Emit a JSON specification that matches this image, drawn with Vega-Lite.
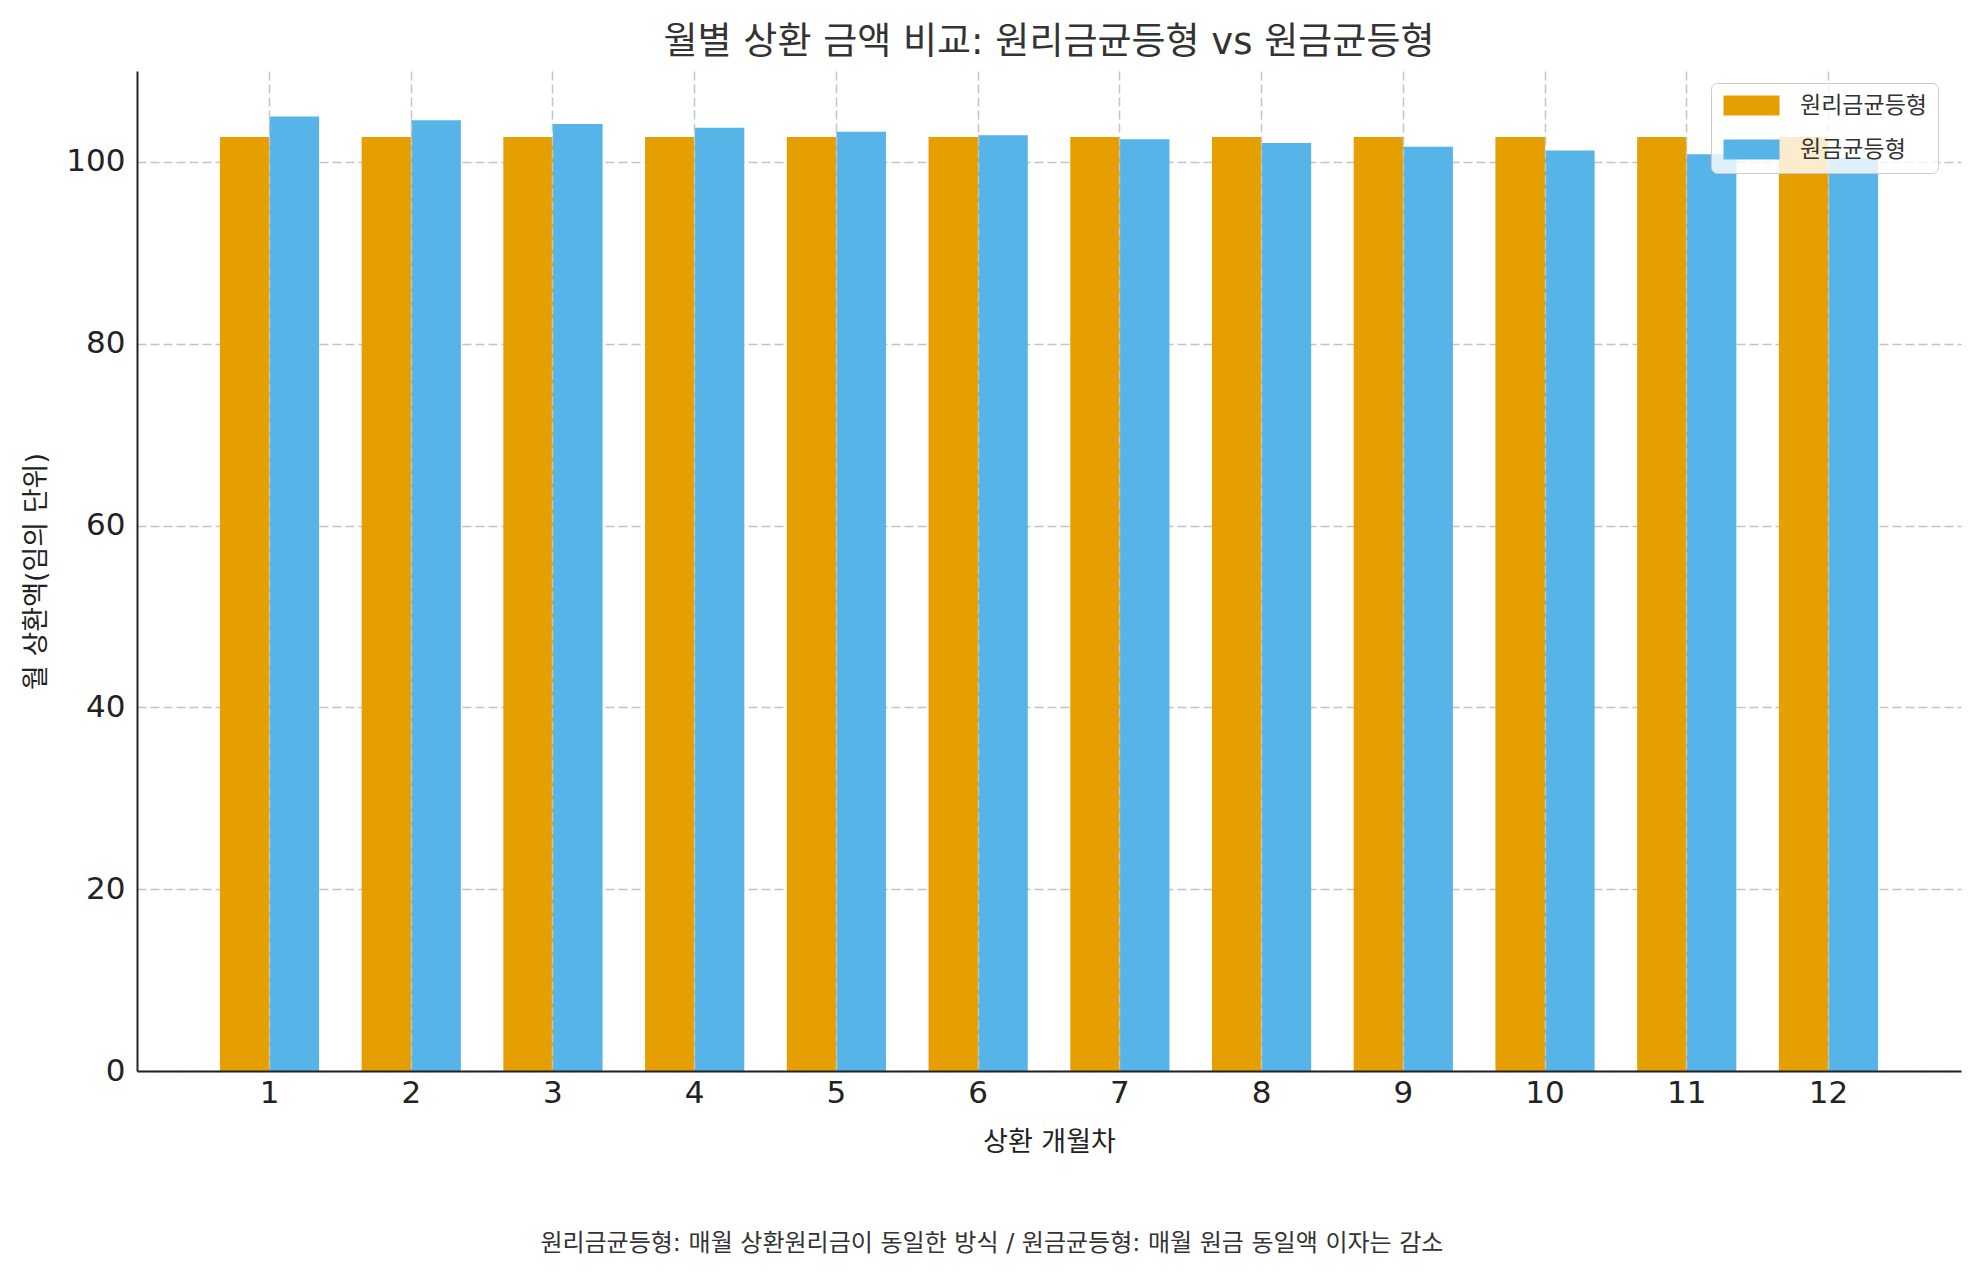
{
  "$schema": "https://vega.github.io/schema/vega-lite/v6.json",
  "padding": {"left": 22, "top": 24, "right": 5, "bottom": 5},
  "background": "white",
  "title": {
    "text": "원리금균등형: 매월 상환원리금이 동일한 방식 / 원금균등형: 매월 원금 동일액 이자는 감소",
    "orient": "bottom",
    "anchor": "middle",
    "fontSize": 24,
    "fontWeight": "normal",
    "color": "#333333",
    "offset": 77,
    "font": "DejaVu Sans, Noto Sans CJK KR"
  },
  "config": {
    "font": "DejaVu Sans, Noto Sans CJK KR",
    "view": {"stroke": null},
    "axis": {
      "domainColor": "#222222",
      "domainWidth": 2,
      "tickColor": "#222222",
      "tickWidth": 2,
      "tickSize": 0,
      "labelFontSize": 31,
      "labelColor": "#222222",
      "titleFontSize": 27,
      "titleFontWeight": "normal",
      "titleColor": "#222222",
      "gridColor": "#c4c4c4",
      "gridDash": [9, 4],
      "gridWidth": 1.5
    }
  },
  "vconcat": [
    {
      "title": {
        "text": "월별 상환 금액 비교: 원리금균등형 vs 원금균등형",
        "fontSize": 37,
        "fontWeight": "normal",
        "color": "#333333",
        "anchor": "middle",
        "offset": 9
      },
      "width": 1824,
      "height": 1000,
      "data": {
        "values": [
          {"month": 1, "series": "원리금균등형", "value": 102.73},
          {"month": 2, "series": "원리금균등형", "value": 102.73},
          {"month": 3, "series": "원리금균등형", "value": 102.73},
          {"month": 4, "series": "원리금균등형", "value": 102.73},
          {"month": 5, "series": "원리금균등형", "value": 102.73},
          {"month": 6, "series": "원리금균등형", "value": 102.73},
          {"month": 7, "series": "원리금균등형", "value": 102.73},
          {"month": 8, "series": "원리금균등형", "value": 102.73},
          {"month": 9, "series": "원리금균등형", "value": 102.73},
          {"month": 10, "series": "원리금균등형", "value": 102.73},
          {"month": 11, "series": "원리금균등형", "value": 102.73},
          {"month": 12, "series": "원리금균등형", "value": 102.73},
          {"month": 1, "series": "원금균등형", "value": 105.0},
          {"month": 2, "series": "원금균등형", "value": 104.58},
          {"month": 3, "series": "원금균등형", "value": 104.17},
          {"month": 4, "series": "원금균등형", "value": 103.75},
          {"month": 5, "series": "원금균등형", "value": 103.33},
          {"month": 6, "series": "원금균등형", "value": 102.92},
          {"month": 7, "series": "원금균등형", "value": 102.5},
          {"month": 8, "series": "원금균등형", "value": 102.08},
          {"month": 9, "series": "원금균등형", "value": 101.67},
          {"month": 10, "series": "원금균등형", "value": 101.25},
          {"month": 11, "series": "원금균등형", "value": 100.83},
          {"month": 12, "series": "원금균등형", "value": 100.42}
        ]
      },
      "mark": {"type": "bar"},
      "encoding": {
        "x": {
          "field": "month",
          "type": "ordinal",
          "scale": {"paddingInner": 0.3, "paddingOuter": 0.585},
          "axis": {
            "title": "상환 개월차",
            "labelAngle": 0,
            "labelPadding": 7,
            "titlePadding": 21,
            "grid": true,
            "zindex": 1
          }
        },
        "xOffset": {
          "field": "series",
          "type": "nominal",
          "scale": {"domain": ["원리금균등형", "원금균등형"], "paddingInner": 0, "paddingOuter": 0}
        },
        "y": {
          "field": "value",
          "type": "quantitative",
          "scale": {"domain": [0, 110], "nice": false},
          "axis": {
            "title": "월 상환액(임의 단위)",
            "values": [0, 20, 40, 60, 80, 100],
            "labelPadding": 12,
            "titlePadding": 15,
            "grid": true,
            "zindex": 0
          }
        },
        "color": {
          "field": "series",
          "type": "nominal",
          "scale": {"domain": ["원리금균등형", "원금균등형"], "range": ["#E69F00", "#56B4E9"]},
          "legend": {
            "orient": "none",
            "legendX": 1574,
            "legendY": 12,
            "title": null,
            "symbolType": "M-1,-1H4.6V1H-1Z",
            "symbolSize": 400,
            "symbolStrokeWidth": 0,
            "symbolOpacity": 1,
            "labelFontSize": 23,
            "labelColor": "#333333",
            "labelOffset": 55,
            "rowPadding": 20,
            "padding": 11,
            "fillColor": "rgba(255,255,255,0.8)",
            "strokeColor": "#cccccc",
            "cornerRadius": 6
          }
        }
      }
    }
  ]
}
